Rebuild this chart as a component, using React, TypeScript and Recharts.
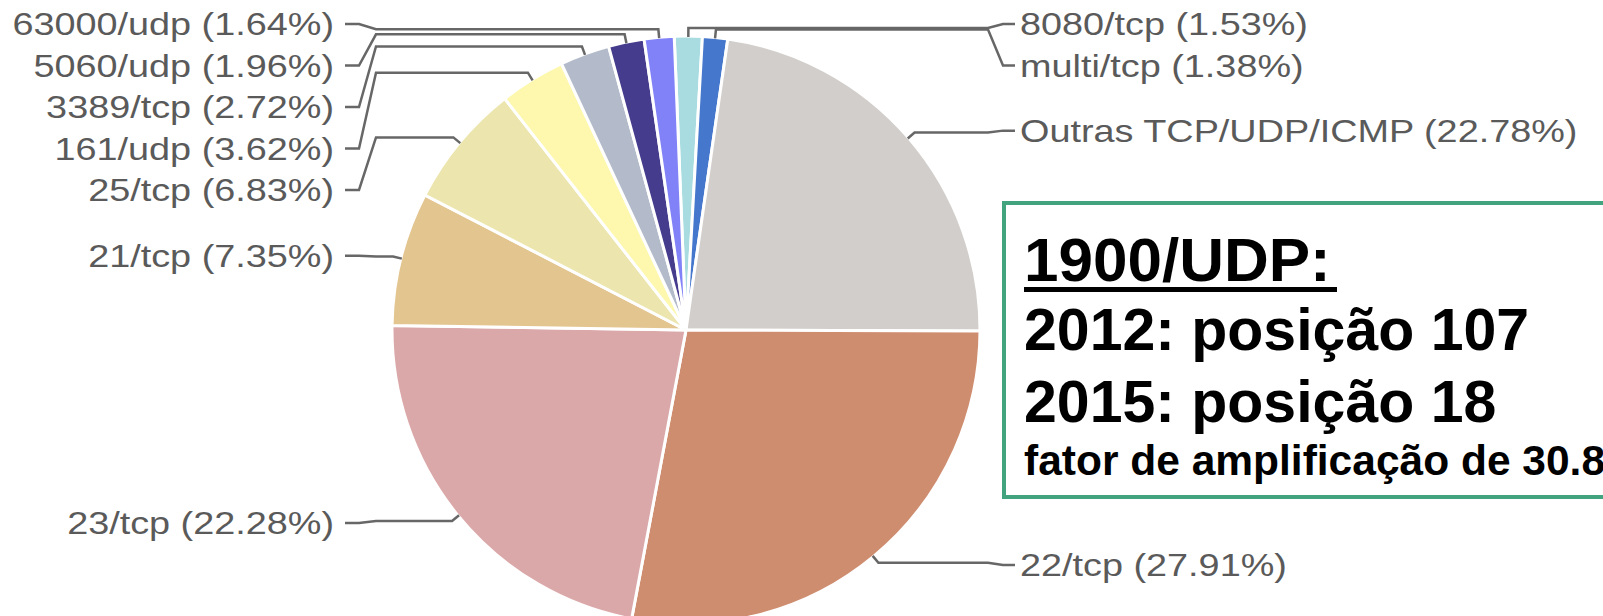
import { Cell, Pie, PieChart } from "recharts"

const ports = [
  "8080/tcp",
  "multi/tcp",
  "Outras TCP/UDP/ICMP",
  "22/tcp",
  "23/tcp",
  "21/tcp",
  "25/tcp",
  "161/udp",
  "3389/tcp",
  "5060/udp",
  "63000/udp",
]
const shares = [1.53, 1.38, 22.78, 27.91, 22.28, 7.35, 6.83, 3.62, 2.72, 1.96, 1.64]
const COLORS = [
  "#a9dce0",
  "#4577cc",
  "#d2cecb",
  "#cf8d70",
  "#dba8a9",
  "#e3c590",
  "#ece6ae",
  "#fdf8ae",
  "#b3bbcb",
  "#453c8d",
  "#8282f8",
]
const noteLines = ["2012: posição 107", "2015: posição 18"]
const noteTitle = "1900/UDP:"
const noteFoot = "fator de amplificação de 30.8"

const data = ports.map((name, i) => ({ name, value: shares[i] }))

const W = 1603
const H = 616
const CX = 681
const CY = 325
const R = 294
const START = 92.3
const GAP = 41.5
const RAD = Math.PI / 180
const LEFT_TEXT = 334
const RIGHT_TEXT = 1020
const SX = 1.22
const FONT = "'Liberation Sans', Arial, Helvetica, sans-serif"

type Slot = { side: "left" | "right"; y: number }

// stack labels on each side the way the original chart does
function layoutLabels(): Slot[] {
  const total = shares.reduce((a, b) => a + b, 0)
  let acc = 0
  const items = shares.map((v, i) => {
    const mid = START - (360 * (acc + v / 2)) / total
    acc += v
    const side: "left" | "right" = Math.cos(mid * RAD) < 0 ? "left" : "right"
    const want = CY + 5 - (R + 11) * Math.sin(mid * RAD)
    return { i, side, want }
  })
  const out: Slot[] = []
  const clamp = (top: number, n: number) => Math.max(24, Math.min(top, H - 24 - (n - 1) * GAP))
  for (const side of ["left", "right"] as const) {
    const list = items.filter((it) => it.side === side).sort((a, b) => a.want - b.want)
    const clusters: { ids: typeof list; top: number }[] = []
    for (const it of list) {
      clusters.push({ ids: [it], top: clamp(it.want, 1) })
      while (clusters.length > 1) {
        const last = clusters[clusters.length - 1]
        const prev = clusters[clusters.length - 2]
        if (prev.top + prev.ids.length * GAP <= last.top) break
        const ids = [...prev.ids, ...last.ids]
        const top = ids.reduce((s, m, k) => s + m.want - k * GAP, 0) / ids.length
        clusters.splice(-2, 2, { ids, top: clamp(top, ids.length) })
      }
    }
    clusters.forEach((c) => c.ids.forEach((m, k) => (out[m.i] = { side, y: c.top + k * GAP })))
  }
  return out
}

const slots = layoutLabels()

function SliceLabel(props: any) {
  const { cx, cy, midAngle, outerRadius } = props
  const name = props.name ?? props.payload?.name
  const value = props.value ?? props.payload?.value
  const index = typeof props.index === "number" ? props.index : ports.indexOf(name)
  const cos = Math.cos(-midAngle * RAD)
  const sin = Math.sin(-midAngle * RAD)
  const p1 = [cx + (outerRadius - 1) * cos, cy + (outerRadius - 1) * sin]
  const p2 = [cx + (outerRadius + 8) * cos, cy + (outerRadius + 8) * sin]
  const { side, y } = slots[index]
  const pts =
    side === "left"
      ? [p1, p2, [376, p2[1]], [359, y], [345, y]]
      : [p1, p2, [988, p2[1]], [1003, y], [1015, y]]
  const tx = side === "left" ? LEFT_TEXT : RIGHT_TEXT
  return (
    <g>
      <polyline
        points={pts.map((p) => p.join(",")).join(" ")}
        fill="none"
        stroke="#676767"
        strokeWidth={2.5}
      />
      <g transform={`translate(${tx} ${y}) scale(${SX} 1)`}>
        <text
          x={0}
          y={0}
          dy="0.36em"
          textAnchor={side === "left" ? "end" : "start"}
          fontSize={31}
          fill="#5a5a5a"
          fontFamily={FONT}
        >
          {`${name} (${Number(value).toFixed(2)}%)`}
        </text>
      </g>
    </g>
  )
}

function Note() {
  return (
    <svg
      width={W}
      height={H}
      style={{ position: "absolute", left: 0, top: 0, pointerEvents: "none" }}
    >
      <rect x={1004} y={203} width={700} height={294} fill="#fff" stroke="#42a47f" strokeWidth={4} />
      <g fontFamily={FONT} fontWeight="bold" fill="#000">
        <text x={1024} y={281} fontSize={62}>
          {noteTitle}
        </text>
        <rect x={1024} y={287} width={313} height={5} fill="#000" />
        {noteLines.map((t, i) => (
          <text key={t} x={1024} y={350 + i * 72} fontSize={59}>
            {t}
          </text>
        ))}
        <text x={1024} y={475} fontSize={42.5}>
          {noteFoot}
        </text>
      </g>
    </svg>
  )
}

export default function App() {
  return (
    <div style={{ position: "absolute", left: 0, top: 0, width: W, height: H, overflow: "hidden", background: "#fff" }}>
      <PieChart width={W} height={H}>
        <Pie
          data={data}
          dataKey="value"
          nameKey="name"
          cx={CX}
          cy={CY}
          outerRadius={R}
          startAngle={START}
          endAngle={START - 360}
          stroke="#fff"
          strokeWidth={3}
          labelLine={false}
          label={SliceLabel}
          isAnimationActive={false}
        >
          {data.map((entry, index) => (
            <Cell key={`cell-${index}`} fill={COLORS[index % COLORS.length]} />
          ))}
        </Pie>
      </PieChart>
      <Note />
    </div>
  )
}
